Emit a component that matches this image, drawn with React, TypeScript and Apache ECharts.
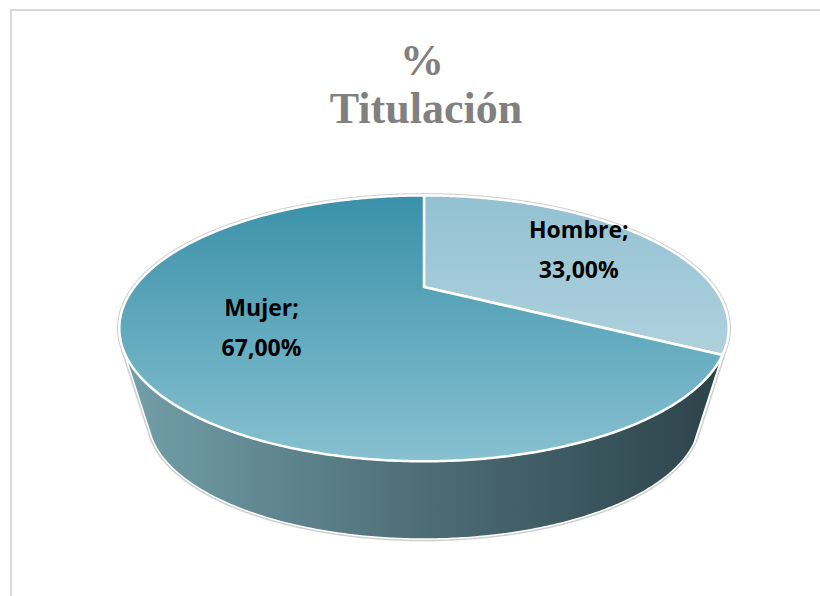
import React, { useEffect, useRef } from "react";
import * as echarts from "echarts";

// ---- data ----
const categories: string[] = ["Hombre", "Mujer"];
const values: number[] = [33, 67];
const titleLines: string[] = ["%", "Titulación"];

// ---- style ----
const topColors: [string, string][] = [
  ["#93c1d2", "#c2dce5"],
  ["#3a91a9", "#88c1d1"],
];
const wallStops = [
  { offset: 0, color: "#73a0ab" },
  { offset: 0.5, color: "#4d6d76" },
  { offset: 1, color: "#2c4249" },
];

// ---- 3D projection (perspective) ----
const VX = 424;
const VY = 287;
const FOC = 848;
const DIST = 2.928;
const TILT = (24.5 * Math.PI) / 180;
const CT = Math.cos(TILT);
const ST = Math.sin(TILT);
const VPX = 424;
const VPY = 1280;
const KB = 0.905;

function topPt(phi: number, r = 1): number[] {
  const u = r * Math.sin(phi);
  const v = -r * Math.cos(phi);
  const z = DIST - v * CT;
  return [VX + (FOC * u) / z, VY + (FOC * v * ST) / z];
}
function botPt(phi: number): number[] {
  const t = topPt(phi);
  return [VPX + KB * (t[0] - VPX), VPY + KB * (t[1] - VPY)];
}
function arc(a: number, b: number, fn: (p: number) => number[]): number[][] {
  const n = Math.max(2, Math.ceil(((b - a) * 180) / Math.PI / 0.5));
  const pts: number[][] = [];
  for (let i = 0; i <= n; i++) pts.push(fn(a + ((b - a) * i) / n));
  return pts;
}
// silhouette tangents (lines through vanishing point)
function findTangents(): [number, number] {
  let best = -Infinity;
  let worst = Infinity;
  let pr = Math.PI / 2;
  let pl = (3 * Math.PI) / 2;
  for (let d = 1; d < 360; d += 0.1) {
    const p = (d * Math.PI) / 180;
    const t = topPt(p);
    const ang = Math.atan2(t[0] - VPX, VPY - t[1]);
    if (d < 180 && ang > best) {
      best = ang;
      pr = p;
    }
    if (d > 180 && ang < worst) {
      worst = ang;
      pl = p;
    }
  }
  return [pr, pl];
}
const [PHI_R, PHI_L] = findTangents();

export default function App() {
  const ref = useRef<HTMLDivElement>(null);
  useEffect(() => {
    if (!ref.current) return;
    const chart = echarts.init(ref.current, undefined, { renderer: "svg" });
    const total = values.reduce((s, v) => s + v, 0);
    const starts: number[] = [];
    let acc = 0;
    values.forEach((v) => {
      starts.push(acc);
      acc += v;
    });

    const renderItem = (params: any, api: any) => {
      const i = params.dataIndex;
      const val = api.value(0);
      const a1 = (starts[i] / total) * Math.PI * 2;
      const a2 = ((starts[i] + val) / total) * Math.PI * 2;
      const children: any[] = [];

      if (i === 0) {
        // outer rim of the whole pie
        const rim = arc(PHI_L, PHI_R + Math.PI * 2, topPt).concat(
          arc(PHI_R, PHI_L, botPt)
        );
        children.push({
          type: "polygon",
          z2: 0,
          shape: { points: rim },
          style: { fill: "#ffffff", stroke: "#cfcfcf", lineWidth: 4.5, lineJoin: "round" },
        });
      }

      // wall
      const wa = Math.max(a1, PHI_R);
      const wb = Math.min(a2, PHI_L);
      if (wa < wb) {
        const pts = arc(wa, wb, topPt).concat(arc(wa, wb, botPt).reverse());
        children.push({
          type: "polygon",
          z2: 1,
          shape: { points: pts },
          style: {
            fill: new echarts.graphic.LinearGradient(122, 0, 726, 0, wallStops, true),
            stroke: "#ffffff",
            lineWidth: 1.5,
            lineJoin: "round",
          },
        });
      }

      // top face
      const facePts = [[VX, VY]].concat(arc(a1, a2, topPt));
      children.push({
        type: "polygon",
        z2: 2,
        shape: { points: facePts },
        style: {
          fill: new echarts.graphic.LinearGradient(
            0,
            196,
            0,
            462,
            [
              { offset: 0, color: topColors[i][0] },
              { offset: 1, color: topColors[i][1] },
            ],
            true
          ),
          stroke: "#ffffff",
          lineWidth: 2.5,
          lineJoin: "round",
        },
      });

      // label
      const mid = (a1 + a2) / 2;
      const lp = topPt(mid, 0.63);
      const pct = ((val / total) * 100).toFixed(2).replace(".", ",") + "%";
      children.push({
        type: "text",
        z2: 3,
        style: {
          text: categories[i] + ";\n" + pct,
          x: lp[0] + 12,
          y: lp[1] - 3,
          align: "center",
          verticalAlign: "middle",
          fontFamily: '"Open Sans", sans-serif',
          fontWeight: "bold",
          fontSize: 23,
          lineHeight: 40,
          fill: "#000000",
        },
      });

      return { type: "group", children };
    };

    chart.setOption({
      animation: false,
      backgroundColor: "#ffffff",
      graphic: [
        {
          type: "rect",
          shape: { x: 11, y: 10, width: 900, height: 700 },
          style: { fill: "none", stroke: "#d9d9d9", lineWidth: 2 },
          silent: true,
        },
        {
          type: "text",
          style: {
            text: titleLines[0],
            x: 422,
            y: 60,
            align: "center",
            verticalAlign: "middle",
            fontFamily: '"Liberation Serif", serif',
            fontWeight: "bold",
            fontSize: 44,
            fill: "#808080",
          },
        },
        {
          type: "text",
          style: {
            text: titleLines[1],
            x: 426,
            y: 108,
            align: "center",
            verticalAlign: "middle",
            fontFamily: '"Liberation Serif", serif',
            fontWeight: "bold",
            fontSize: 44,
            fill: "#808080",
          },
        },
      ],
      series: [
        {
          type: "custom",
          coordinateSystem: "none",
          renderItem,
          data: values.map((v, i) => ({ name: categories[i], value: [v] })),
        },
      ],
    });
    return () => chart.dispose();
  }, []);
  return (
    <div
      ref={ref}
      style={{ position: "fixed", left: 0, top: 0, width: 820, height: 596, background: "#fff" }}
    />
  );
}
